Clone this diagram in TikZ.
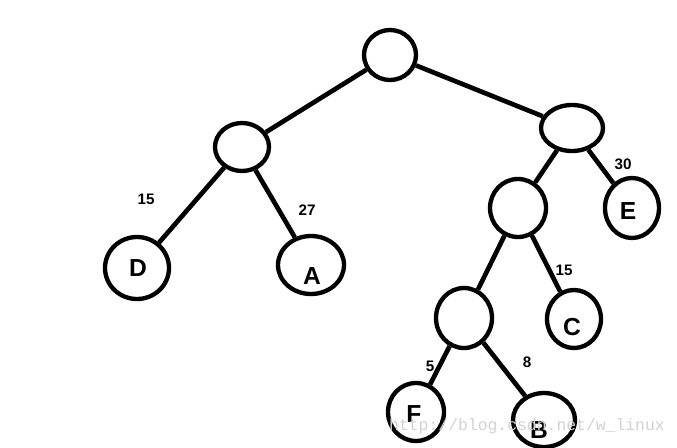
\documentclass[tikz,border=0pt]{standalone}
\usepackage{fontspec}
\setmainfont{Liberation Sans}
\setmonofont{Liberation Mono}
\usetikzlibrary{shapes.geometric}
\tikzset{
  vtx/.style={draw,ellipse,line width=1.3mm,inner sep=0pt},
  edge/.style={line width=1.4mm},
  wt/.style={font=\fontsize{13}{15}\selectfont\bfseries},
  letter/.style={font=\fontsize{21}{25}\selectfont\bfseries}
}
\begin{document}
\begin{tikzpicture}[x=0.03cm,y=-0.03cm]
  \useasboundingbox (0,0) rectangle (677,447);

  % inner nodes
  \node[vtx,minimum width=1.56cm,minimum height=1.5cm] (root) at (390,55) {};
  \node[vtx,minimum width=1.62cm,minimum height=1.44cm] (lft) at (242,147) {};
  \node[vtx,minimum width=1.86cm,minimum height=1.38cm] (rgt) at (572,128) {};
  \node[vtx,minimum width=1.68cm,minimum height=1.74cm] (rmid) at (518,208) {};
  \node[vtx,minimum width=1.68cm,minimum height=1.8cm] (low) at (464,318) {};

  % leaves
  \node[vtx,minimum width=1.92cm,minimum height=1.86cm,
    label={[letter,xshift=0.03cm]center:D}] (D) at (137,268) {};
  \node[vtx,minimum width=1.98cm,minimum height=1.74cm,
    label={[letter,xshift=0.03cm,yshift=-0.33cm]center:A}] (A) at (311,265) {};
  \node[vtx,minimum width=1.62cm,minimum height=1.8cm,
    label={[letter,xshift=-0.12cm,yshift=-0.09cm]center:E}] (E) at (632,208) {};
  \node[vtx,minimum width=1.62cm,minimum height=1.74cm,
    label={[letter,xshift=-0.06cm,yshift=-0.24cm]center:C}] (C) at (574,319) {};
  \node[vtx,minimum width=1.68cm,minimum height=1.74cm,
    label={[letter,xshift=-0.06cm,yshift=-0.06cm]center:F}] (F) at (416,412) {};
  \node[vtx,minimum width=1.86cm,minimum height=1.62cm,
    label={[letter,xshift=-0.15cm,yshift=-0.3cm]center:B}] (B) at (544,420) {};

  % edges
  \draw[edge] (root) -- (lft);
  \draw[edge] (root) -- (rgt);
  \draw[edge] (lft) -- (D);
  \draw[edge] (lft) -- (A);
  \draw[edge] (rgt) -- (rmid);
  \draw[edge] (rgt) -- (E);
  \draw[edge] (rmid) -- (low);
  \draw[edge] (rmid) -- (C);
  \draw[edge] (low) -- (F);
  \draw[edge] (low) -- (B);

  % weights
  \node[wt] (wD) at (146,199) {15};
  \node[wt] (wA) at (307,210) {27};
  \node[wt] (wE) at (623,164) {30};
  \node[wt] (wC) at (564,270) {15};
  \node[wt] (wF) at (430,366) {5};
  \node[wt] (wB) at (527,362) {8};

  \node[font=\fontsize{14}{16}\ttfamily,text=gray!35] (mark) at (527,426)
    {http://blog.csdn.net/w\_linux};
\end{tikzpicture}
\end{document}
